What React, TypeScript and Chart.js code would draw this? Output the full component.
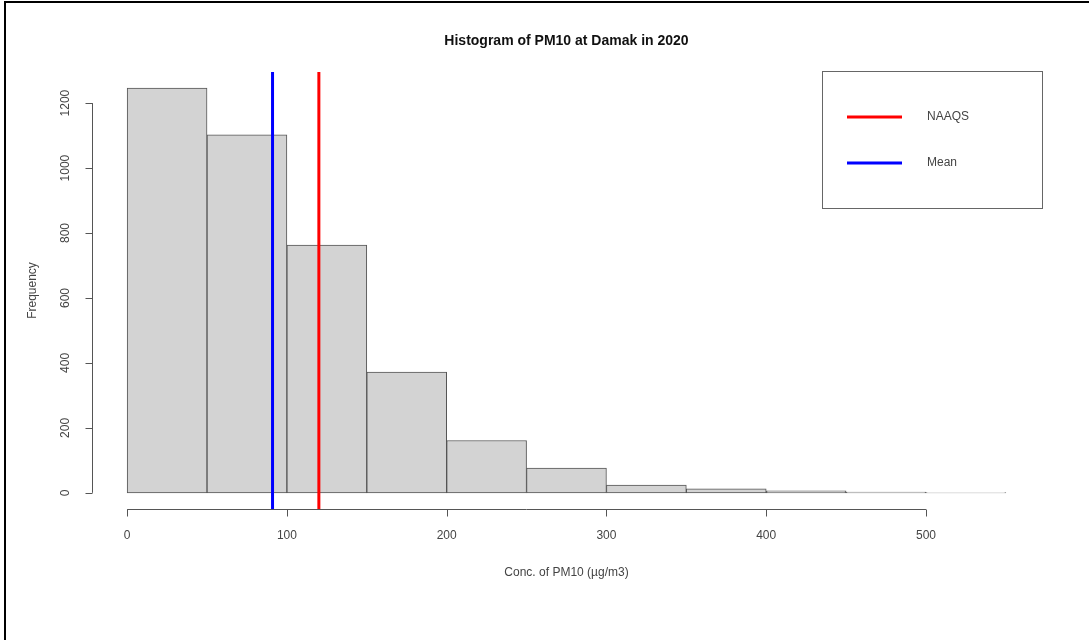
import React, { useEffect, useRef } from "react";
import { Chart, registerables } from "chart.js";

Chart.register(...registerables);

// ---- data ----
const BIN_EDGES = [0, 50, 100, 150, 200, 250, 300, 350, 400, 450, 500, 550];
const COUNTS = [1246, 1102, 763, 372, 161, 76, 24, 12, 6, 2, 1];
const X_TICKS = [0, 100, 200, 300, 400, 500];
const Y_TICKS = [0, 200, 400, 600, 800, 1000, 1200];
const NAAQS = 120;
const MEAN = 91;
const TITLE = "Histogram of PM10 at Damak in 2020";
const X_TITLE = "Conc. of PM10 (µg/m3)";
const Y_TITLE = "Frequency";
const LEGEND_LABELS = ["NAAQS", "Mean"];

const FONT = "'Liberation Sans', Arial, Helvetica, sans-serif";

export default function App() {
  const ref = useRef<HTMLCanvasElement | null>(null);

  useEffect(() => {
    const canvas = ref.current;
    if (!canvas) return;
    const xLo = BIN_EDGES[0];
    const xHi = BIN_EDGES[BIN_EDGES.length - 1];
    const xExt = (xHi - xLo) * 0.04;
    const yHi = Math.max(...COUNTS);
    const yExt = yHi * 0.04;
    const yMin = -yExt;
    const yMax = yHi + yExt;

    const bars = COUNTS.map((c, i) => ({ x: (BIN_EDGES[i] + BIN_EDGES[i + 1]) / 2, y: c }));

    const rAxes = {
      id: "rAxes",
      afterDraw(chart: any) {
        const ctx = chart.ctx as CanvasRenderingContext2D;
        const xs = chart.scales.x;
        const ys = chart.scales.y;
        const area = chart.chartArea;
        ctx.save();
        // x axis
        ctx.strokeStyle = "#555";
        ctx.lineWidth = 1;
        const xAxisY = Math.round(area.bottom) + 0.5;
        ctx.beginPath();
        ctx.moveTo(xs.getPixelForValue(X_TICKS[0]), xAxisY);
        ctx.lineTo(xs.getPixelForValue(X_TICKS[X_TICKS.length - 1]), xAxisY);
        X_TICKS.forEach((t) => {
          const px = Math.round(xs.getPixelForValue(t)) + 0.5;
          ctx.moveTo(px, xAxisY);
          ctx.lineTo(px, xAxisY + 7);
        });
        ctx.stroke();
        ctx.fillStyle = "#444";
        ctx.font = `12px ${FONT}`;
        ctx.textAlign = "center";
        ctx.textBaseline = "middle";
        X_TICKS.forEach((t) => {
          ctx.fillText(String(t), xs.getPixelForValue(t), xAxisY + 26);
        });
        // y axis
        const yAxisX = Math.round(area.left) + 0.5;
        ctx.beginPath();
        ctx.moveTo(yAxisX, ys.getPixelForValue(Y_TICKS[0]));
        ctx.lineTo(yAxisX, ys.getPixelForValue(Y_TICKS[Y_TICKS.length - 1]));
        Y_TICKS.forEach((t) => {
          const py = Math.round(ys.getPixelForValue(t)) + 0.5;
          ctx.moveTo(yAxisX, py);
          ctx.lineTo(yAxisX - 7, py);
        });
        ctx.stroke();
        Y_TICKS.forEach((t) => {
          ctx.save();
          ctx.translate(yAxisX - 27, ys.getPixelForValue(t));
          ctx.rotate(-Math.PI / 2);
          ctx.fillText(String(t), 0, 0);
          ctx.restore();
        });
        // axis titles
        const cx = (area.left + area.right) / 2;
        const cy = (area.top + area.bottom) / 2;
        ctx.fillText(X_TITLE, cx, area.bottom + 64);
        ctx.save();
        ctx.translate(33, cy);
        ctx.rotate(-Math.PI / 2);
        ctx.fillText(Y_TITLE, 0, 0);
        ctx.restore();
        // title
        ctx.fillStyle = "#111";
        ctx.font = `bold 14px ${FONT}`;
        ctx.fillText(TITLE, cx, 41);
        // legend box
        const lx = 822.5, ly = 71.5, lw = 220, lh = 137;
        ctx.strokeStyle = "#666";
        ctx.strokeRect(lx, ly, lw, lh);
        const lineDs = chart.data.datasets.filter((d: any) => d.type === "line");
        ctx.font = `12px ${FONT}`;
        ctx.textAlign = "left";
        lineDs.forEach((d: any, i: number) => {
          const yy = 117 + i * 46;
          ctx.strokeStyle = d.borderColor;
          ctx.lineWidth = 3;
          ctx.beginPath();
          ctx.moveTo(847, yy);
          ctx.lineTo(902, yy);
          ctx.stroke();
          ctx.fillStyle = "#444";
          ctx.fillText(d.label, 927, yy);
        });
        ctx.restore();
      },
    };

    const chart = new Chart(canvas, {
      type: "bar",
      data: {
        datasets: [
          {
            type: "line",
            label: LEGEND_LABELS[0],
            data: [
              { x: NAAQS, y: yMin },
              { x: NAAQS, y: yMax },
            ],
            borderColor: "#ff0000",
            borderWidth: 3,
            pointRadius: 0,
            order: 0,
          } as any,
          {
            type: "line",
            label: LEGEND_LABELS[1],
            data: [
              { x: MEAN, y: yMin },
              { x: MEAN, y: yMax },
            ],
            borderColor: "#0000ff",
            borderWidth: 3,
            pointRadius: 0,
            order: 0,
          } as any,
          {
            type: "bar",
            label: "PM10",
            data: bars,
            backgroundColor: "#d3d3d3",
            borderColor: "#555",
            borderWidth: 1,
            borderSkipped: false,
            barPercentage: 1,
            categoryPercentage: 1,
            grouped: false,
            order: 1,
          } as any,
        ],
      },
      options: {
        responsive: false,
        animation: false,
        events: [],
        layout: { padding: { left: 92, right: 48, top: 72, bottom: 131 } },
        plugins: {
          legend: { display: false },
          title: { display: false },
          tooltip: { enabled: false },
        },
        scales: {
          x: {
            type: "linear",
            display: false,
            offset: false,
            grid: { offset: false },
            min: xLo - xExt,
            max: xHi + xExt,
            afterBuildTicks: (s: any) => {
              s.ticks = X_TICKS.map((v) => ({ value: v }));
            },
          },
          y: {
            type: "linear",
            display: false,
            min: yMin,
            max: yMax,
            afterBuildTicks: (s: any) => {
              s.ticks = Y_TICKS.map((v) => ({ value: v }));
            },
          },
        },
      },
      plugins: [rAxes],
    });
    return () => chart.destroy();
  }, []);

  return (
    <div style={{ position: "fixed", left: 0, top: 0, width: 1089, height: 640, background: "#fff" }}>
      <canvas ref={ref} width={1089} height={640} style={{ position: "absolute", left: 0, top: 0 }} />
      <div
        style={{
          position: "absolute",
          left: 4,
          top: 1,
          width: 1085,
          height: 639,
          borderTop: "2px solid #000",
          borderLeft: "2px solid #000",
          boxSizing: "border-box",
          pointerEvents: "none",
        }}
      />
    </div>
  );
}
